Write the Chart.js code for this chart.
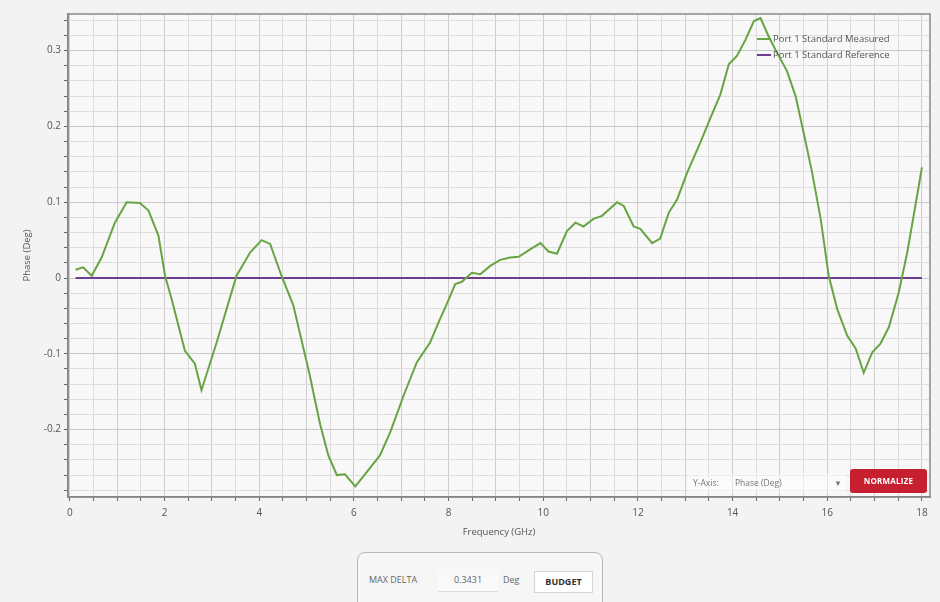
<!DOCTYPE html>
<html>
<head>
<meta charset="utf-8">
<script src="https://cdn.jsdelivr.net/npm/chart.js@4/dist/chart.umd.min.js"></script>
<style>
  html, body { margin: 0; padding: 0; }
  body {
    width: 940px; height: 602px; overflow: hidden; position: relative;
    background: #f3f3f3; font-family: "Open Sans", "Noto Sans", sans-serif;
  }
  #wrap { position: absolute; left: 0; top: 0; width: 940px; height: 545px; }
  .legend { position: absolute; left: 757px; top: 31px; font-size: 9.5px; color: #555; line-height: 16px; }
  .legend span.sw { display: inline-block; width: 14px; height: 2px; vertical-align: middle; margin-right: 2px; }
  .yaxis-ctl { position: absolute; left: 688px; top: 474px; width: 158px; height: 18px;
    font-size: 8.5px; color: #777; line-height: 18px; background: rgba(255,255,255,0.45); }
  .yaxis-ctl .lbl { position: absolute; left: 5px; }
  .yaxis-ctl .val { position: absolute; left: 47px; }
  .yaxis-ctl .arr { position: absolute; left: 146px; font-size: 8px; }
  .normalize { position: absolute; left: 850px; top: 469px; width: 77px; height: 24px;
    background: #c61f30; border-radius: 3px; color: #fff; font-size: 8px; font-weight: bold;
    text-align: center; line-height: 24px; letter-spacing: 0.2px; }
  .delta { position: absolute; left: 357px; top: 552px; width: 244px; height: 70px;
    border: 1px solid #b9b9b9; border-radius: 8px; background: #f6f6f6; font-size: 9px; color: #666; }
  .delta .t1 { position: absolute; left: 11px; top: 20px; }
  .delta .inp { position: absolute; left: 80px; top: 16px; width: 60px; height: 22px;
    border-bottom: 1px solid #ddd; background: #f9f9f9; text-align: center; line-height: 22px; }
  .delta .deg { position: absolute; left: 145px; top: 20px; }
  .delta .btn { position: absolute; left: 176px; top: 18px; width: 57px; height: 20px;
    background: #fff; border: 1px solid #d4d4d4; color: #333; font-weight: bold;
    text-align: center; line-height: 20px; }
</style>
</head>
<body>
<div id="wrap"><canvas id="phaseChart" width="940" height="545"></canvas></div>

<div class="legend">
  <div><span class="sw" style="background:#68a444"></span>Port 1 Standard Measured</div>
  <div><span class="sw" style="background:#6c3d93"></span>Port 1 Standard Reference</div>
</div>
<div class="yaxis-ctl"><span class="lbl">Y-Axis:</span><span class="val">Phase (Deg)</span><span class="arr">&#9660;</span></div>
<div class="normalize">NORMALIZE</div>
<div class="delta">
  <span class="t1">MAX DELTA</span>
  <span class="inp">0.3431</span>
  <span class="deg">Deg</span>
  <span class="btn">BUDGET</span>
</div>

<script>
// frekvenser (GHz) og målt fase (grader), lest av fra bildet
const freqs = [0.12, 0.28, 0.46, 0.67, 0.95, 1.2, 1.48, 1.66, 1.87, 2.01, 2.15, 2.43, 2.64, 2.78,
  3.1, 3.31, 3.52, 3.81, 4.05, 4.23, 4.47, 4.72, 5.07, 5.14, 5.29, 5.46, 5.64, 5.81, 6.03, 6.27,
  6.55, 6.77, 7.05, 7.33, 7.61, 7.82, 7.95, 8.14, 8.28, 8.49, 8.67, 8.88, 9.09, 9.3, 9.48, 9.73,
  9.94, 10.11, 10.29, 10.5, 10.68, 10.85, 11.06, 11.24, 11.56, 11.7, 11.91, 12.05, 12.3, 12.47,
  12.65, 12.83, 13.04, 13.32, 13.53, 13.74, 13.92, 14.09, 14.27, 14.45, 14.59, 14.76, 14.94,
  15.15, 15.33, 15.5, 15.68, 15.86, 16.03, 16.21, 16.42, 16.6, 16.77, 16.95, 17.12, 17.3, 17.51,
  17.69, 17.86, 18.0];
const measured = [0.011, 0.014, 0.003, 0.027, 0.073, 0.1, 0.099, 0.089, 0.056, 0.003, -0.028, -0.096,
  -0.113, -0.148, -0.085, -0.041, 0.003, 0.034, 0.05, 0.045, 0.003, -0.036, -0.129, -0.15, -0.194,
  -0.234, -0.26, -0.259, -0.275, -0.256, -0.234, -0.203, -0.155, -0.111, -0.085, -0.054, -0.036,
  -0.008, -0.005, 0.007, 0.005, 0.016, 0.024, 0.027, 0.028, 0.038, 0.046, 0.035, 0.032, 0.062,
  0.073, 0.068, 0.078, 0.082, 0.1, 0.095, 0.068, 0.065, 0.046, 0.052, 0.086, 0.104, 0.139, 0.179,
  0.211, 0.242, 0.282, 0.293, 0.314, 0.339, 0.343, 0.319, 0.297, 0.273, 0.24, 0.192, 0.139, 0.078,
  0.003, -0.041, -0.076, -0.093, -0.125, -0.098, -0.087, -0.065, -0.019, 0.034, 0.095, 0.146];

// referanselinje
const refFreqs = [0.12, 18.0];
const reference = [0, 0];

const xLabels = [0, 2, 4, 6, 8, 10, 12, 14, 16, 18];
const yLabels = [-0.2, -0.1, 0, 0.1, 0.2, 0.3];

function toPoints(xs, ys) {
  return xs.map((x, i) => ({ x: x, y: ys[i] }));
}

// bakgrunn og ramme rundt plottet
const plotFrame = {
  id: 'plotFrame',
  beforeDraw(chart) {
    const { ctx, chartArea: a } = chart;
    ctx.save();
    ctx.fillStyle = '#f8f8f8';
    ctx.fillRect(a.left, a.top, a.right - a.left, a.bottom - a.top);
    ctx.restore();
  },
  afterDraw(chart) {
    const { ctx, chartArea: a } = chart;
    ctx.save();
    ctx.strokeStyle = '#8a8a8a';
    ctx.lineWidth = 1.5;
    ctx.strokeRect(a.left, a.top, a.right - a.left, a.bottom - a.top);
    ctx.restore();
  }
};

const near = (v, t) => Math.abs(v - t) < 1e-6;

new Chart(document.getElementById('phaseChart'), {
  type: 'scatter',
  data: {
    datasets: [{
      label: 'Port 1 Standard Measured',
      data: toPoints(freqs, measured),
      showLine: true,
      borderColor: '#68a444',
      borderWidth: 2,
      pointRadius: 0,
      tension: 0
    }, {
      label: 'Port 1 Standard Reference',
      data: toPoints(refFreqs, reference),
      showLine: true,
      borderColor: '#6c3d93',
      borderWidth: 2,
      pointRadius: 0,
      tension: 0
    }]
  },
  options: {
    responsive: false,
    animation: false,
    layout: { padding: { top: 14, right: 10, left: 0, bottom: 0 } },
    plugins: { legend: { display: false }, tooltip: { enabled: false } },
    scales: {
      x: {
        type: 'linear',
        min: -0.04,
        max: 18.17,
        afterFit: (s) => { s.height = 48; },
        title: {
          display: true, text: 'Frequency (GHz)', color: '#555',
          font: { family: 'Open Sans', size: 9.5 }, padding: { top: 0, bottom: 7 }
        },
        ticks: {
          stepSize: 0.5, autoSkip: false, includeBounds: false, maxRotation: 0, padding: 6, color: '#555',
          font: { family: 'Open Sans', size: 10 },
          callback: (v) => xLabels.some(t => near(v, t)) ? String(Math.round(v)) : ''
        },
        grid: {
          color: (c) => (c.tick && near(c.tick.value, Math.round(c.tick.value))) ? '#cdcdcd' : '#dcdcdc',
          tickColor: '#666', tickLength: 4
        },
        border: { color: '#777', width: 1.5 }
      },
      y: {
        min: -0.2889,
        max: 0.3483,
        afterFit: (s) => { s.width = 68; },
        title: {
          display: true, text: 'Phase (Deg)', color: '#555',
          font: { family: 'Open Sans', size: 9.5 }, padding: { top: 22, bottom: 0 }
        },
        ticks: {
          stepSize: 0.02, autoSkip: false, includeBounds: false, padding: 3, color: '#555',
          font: { family: 'Open Sans', size: 10 },
          callback: (v) => {
            const t = yLabels.find(l => near(v, l));
            return t === undefined ? '' : (t === 0 ? '0' : String(t));
          }
        },
        grid: {
          color: (c) => (c.tick && yLabels.some(l => near(c.tick.value, l))) ? '#c9c9c9' : '#dedede',
          tickColor: '#666', tickLength: 4
        },
        border: { color: '#777', width: 1.5 }
      }
    }
  },
  plugins: [plotFrame]
});
</script>
</body>
</html>
